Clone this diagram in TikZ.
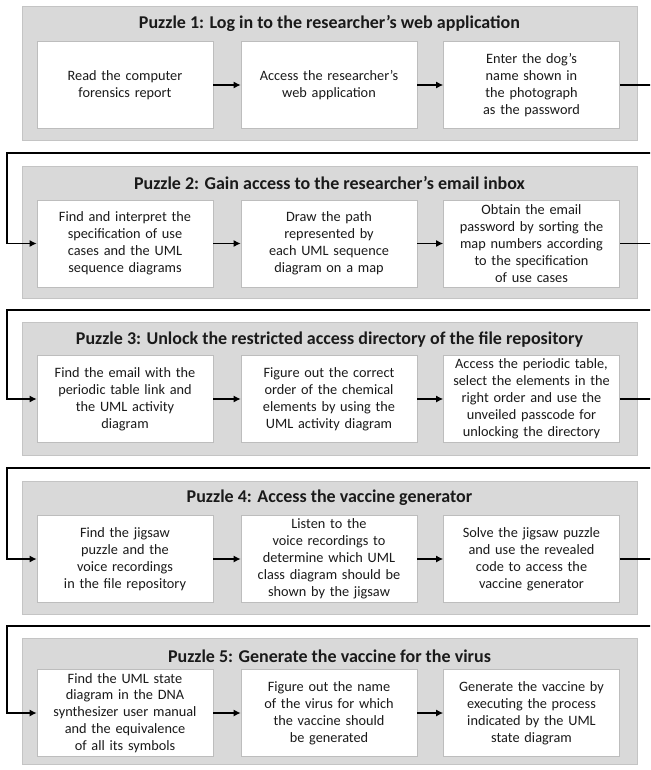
\documentclass[tikz,border=0pt]{standalone}
\usepackage{fontspec}
\setmainfont{Carlito}
\usetikzlibrary{arrows.meta}
\definecolor{panelgray}{HTML}{D9D9D9}
\definecolor{panelborder}{HTML}{C4C4C4}
\definecolor{boxborder}{HTML}{BDBDBD}
\definecolor{txt}{HTML}{1A1A1A}
\begin{document}
\begin{tikzpicture}[x=1pt,y=-1pt,
  panel/.style={fill=panelgray, draw=panelborder, line width=0.8pt},
  stepbox/.style={fill=white, draw=boxborder, line width=0.6pt, minimum width=176pt, minimum height=87pt, text width=175pt, align=center, inner sep=0pt, text=txt, font=\fontsize{14.3}{16.9}\selectfont},
  ptitle/.style={text=txt, font=\bfseries\fontsize{18}{20}\selectfont, inner sep=0pt},
  flow/.style={-{Latex[length=7pt,width=7pt]}, line width=1.4pt, black}]
\useasboundingbox (0,0) rectangle (650,770);
\clip (0,0) rectangle (650,770);
\fill[white] (0,0) rectangle (650,770);

% panels
\draw[panel] (22,6) rectangle (637,140);
\draw[panel] (22,166) rectangle (637,298);
\draw[panel] (22,322) rectangle (637,455);
\draw[panel] (22,481) rectangle (637,614);
\draw[panel] (22,638) rectangle (637,764);

% titles
\node[ptitle] (t1) at (329.5,23) {Puzzle 1: Log in to the researcher’s web application};
\node[ptitle] (t2) at (329.5,183) {Puzzle 2: Gain access to the researcher’s email inbox};
\node[ptitle] (t3) at (329.5,340) {Puzzle 3: Unlock the restricted access directory of the file repository};
\node[ptitle] (t4) at (329.5,498) {Puzzle 4: Access the vaccine generator};
\node[ptitle] (t5) at (329.5,656) {Puzzle 5: Generate the vaccine for the virus};

% puzzle 1
\node[stepbox] (p1a) at (125,85) {Read the computer\\forensics report};
\node[stepbox] (p1b) at (329,85) {Access the researcher’s\\web application};
\node[stepbox] (p1c) at (531.5,85) {Enter the dog’s\\name shown in\\the photograph\\as the password};
% puzzle 2
\node[stepbox] (p2a) at (125,243.5) {Find and interpret the\\specification of use\\cases and the UML\\sequence diagrams};
\node[stepbox] (p2b) at (329,243.5) {Draw the path\\represented by\\each UML sequence\\diagram on a map};
\node[stepbox] (p2c) at (531.5,243.5) {Obtain the email\\password by sorting the\\map numbers according\\to the specification\\of use cases};
% puzzle 3
\node[stepbox] (p3a) at (125,399) {Find the email with the\\periodic table link and\\the UML activity\\diagram};
\node[stepbox] (p3b) at (329,399) {Figure out the correct\\order of the chemical\\elements by using the\\UML activity diagram};
\node[stepbox] (p3c) at (531.5,399) {Access the periodic table,\\select the elements in the\\right order and use the\\unveiled passcode for\\unlocking the directory};
% puzzle 4
\node[stepbox] (p4a) at (125,559) {Find the jigsaw\\puzzle and the\\voice recordings\\in the file repository};
\node[stepbox] (p4b) at (329,559) {Listen to the\\voice recordings to\\determine which UML\\class diagram should be\\shown by the jigsaw};
\node[stepbox] (p4c) at (531.5,559) {Solve the jigsaw puzzle\\and use the revealed\\code to access the\\vaccine generator};
% puzzle 5
\node[stepbox] (p5a) at (125,713) {Find the UML state\\diagram in the DNA\\synthesizer user manual\\and the equivalence\\of all its symbols};
\node[stepbox] (p5b) at (329,713) {Figure out the name\\of the virus for which\\the vaccine should\\be generated};
\node[stepbox] (p5c) at (531.5,713) {Generate the vaccine by\\executing the process\\indicated by the UML\\state diagram};

% arrows within panels
\foreach \p in {1,...,5}{
  \draw[flow] (p\p a) -- (p\p b);
  \draw[flow] (p\p b) -- (p\p c);
}

% return connectors
\coordinate (r1) at (7,153);
\coordinate (r2) at (7,310);
\coordinate (r3) at (7,468);
\coordinate (r4) at (7,626);
\draw[flow] (p1c.east) -- ++(40,0) |- (r1) |- (p2a.west);
\draw[flow] (p2c.east) -- ++(40,0) |- (r2) |- (p3a.west);
\draw[flow] (p3c.east) -- ++(40,0) |- (r3) |- (p4a.west);
\draw[flow] (p4c.east) -- ++(40,0) |- (r4) |- (p5a.west);
\end{tikzpicture}
\end{document}
